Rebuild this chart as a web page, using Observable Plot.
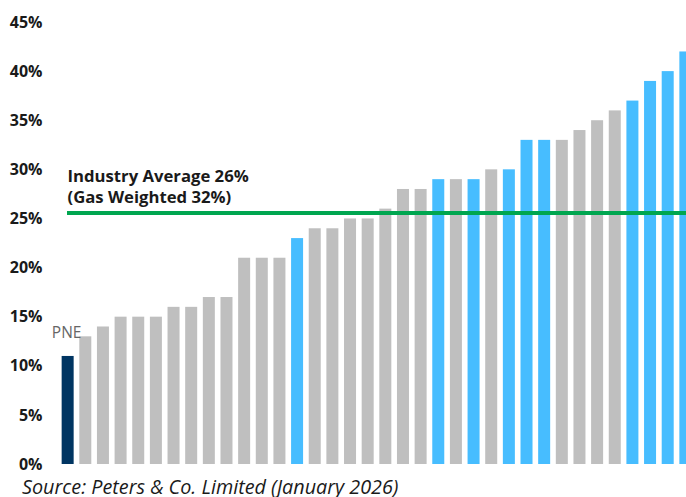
<!DOCTYPE html>
<html>
<head>
<meta charset="utf-8">
<script src="https://cdn.jsdelivr.net/npm/d3@7"></script>
<script src="https://cdn.jsdelivr.net/npm/@observablehq/plot@0.6"></script>
<style>
  html, body { margin: 0; padding: 0; background: #fff; }
  #wrap { width: 686px; height: 497px; overflow: hidden; position: relative; font-family: "Open Sans", sans-serif; }
  #chart svg { max-width: none !important; }
  #caption { position: absolute; left: 22px; top: 477px; font-style: italic; font-size: 19.8px; color: #1a1a1a; white-space: nowrap; line-height: 19px; }
</style>
</head>
<body>
<div id="wrap">
  <div id="chart"></div>
  <div id="caption">Source: Peters &amp; Co. Limited (January 2026)</div>
</div>
<script>
// Bar values (%), left to right
const values = [11, 13, 14, 15, 15, 15, 16, 16, 17, 17, 21, 21, 21, 23, 24, 24, 25, 25, 26, 28, 28, 29, 29, 29, 30, 30, 33, 33, 33, 34, 35, 36, 37, 39, 40, 42];
// Group of each bar: "pne" highlighted, "gas" gas-weighted (blue), "other" (gray)
const groups = ["pne", "other", "other", "other", "other", "other", "other", "other", "other", "other", "other", "other", "other", "gas", "other", "other", "other", "other", "other", "other", "other", "gas", "other", "gas", "other", "gas", "gas", "gas", "other", "other", "other", "other", "gas", "gas", "gas", "gas"];
const labels = ["PNE"];
const yTicks = [0, 5, 10, 15, 20, 25, 30, 35, 40, 45];
const industryAverage = 25.6;
const annotation = ["Industry Average 26%", "(Gas Weighted 32%)"];

const data = values.map((v, i) => ({id: i, value: v, group: groups[i]}));

const chart = Plot.plot({
  width: 700,
  height: 476,
  marginLeft: 56,
  marginRight: 3,
  marginTop: 22,
  marginBottom: 12,
  style: {fontFamily: "Open Sans, sans-serif", background: "#fff", maxWidth: "none"},
  x: {type: "band", domain: data.map(d => d.id), padding: 0.32, round: false, axis: null},
  y: {domain: [0, 45], ticks: yTicks, tickFormat: d => d + "%", tickSize: 0, tickPadding: 14, label: null},
  color: {domain: ["pne", "gas", "other"], range: ["#003562", "#47bdff", "#bfbfbf"]},
  marks: [
    Plot.axisY({ticks: yTicks, tickFormat: d => d + "%", tickSize: 0, tickPadding: 14, label: null, fontSize: 16, fontWeight: "bold", fill: "#1a1a1a"}),
    Plot.barY(data, {x: "id", y: "value", fill: "group"}),
    Plot.ruleY([industryAverage], {stroke: "#00a650", strokeWidth: 4, insetLeft: 11}),
    Plot.text([annotation.join("\n")], {frameAnchor: "left", y: [industryAverage], text: d => d, textAnchor: "start", dx: 11, dy: -27.5, lineHeight: 1.25, fontSize: 16.7, fontWeight: "bold", fill: "#1a1a1a"}),
    Plot.text(data.filter(d => d.group === "pne"), {x: "id", y: "value", text: () => labels[0], dx: -1.5, dy: -23, fontSize: 15.5, fill: "#666666"})
  ]
});
document.getElementById("chart").appendChild(chart);
</script>
</body>
</html>
